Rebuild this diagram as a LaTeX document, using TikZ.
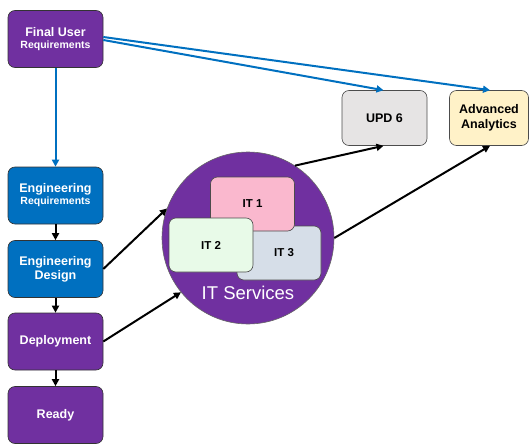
\documentclass[tikz,border=0pt]{standalone}
\usepackage{fontspec}
\setmainfont{Liberation Sans}
\usetikzlibrary{arrows.meta}
\definecolor{vio}{RGB}{112,48,160}
\definecolor{azure}{RGB}{0,112,192}
\definecolor{pinkbox}{RGB}{250,184,206}
\definecolor{greenbox}{RGB}{232,250,232}
\definecolor{steelbox}{RGB}{214,222,232}
\definecolor{greybox}{RGB}{230,228,228}
\definecolor{creambox}{RGB}{255,242,200}
\tikzset{
  flowbox/.style={draw=black!80, line width=0.6pt, rounded corners=7pt,
    minimum width=95pt, minimum height=57pt, text=white, align=center,
    font=\bfseries\fontsize{12.5}{14}\selectfont},
  purplebox/.style={flowbox, fill=vio},
  bluebox/.style={flowbox, fill=azure},
  itbox/.style={draw=black!70, line width=0.6pt, rounded corners=7pt,
    minimum width=84pt, minimum height=54pt, align=center,
    font=\bfseries\fontsize{11.5}{13}\selectfont},
  outbox/.style={draw=black!70, line width=0.6pt, rounded corners=7pt,
    minimum width=85pt, minimum height=55pt, align=center,
    font=\bfseries\fontsize{12.5}{14.5}\selectfont},
  bluearrow/.style={draw=azure, line width=2pt, -{Triangle[length=7pt,width=7pt]}},
  blackarrow/.style={draw=black, line width=2pt, -{Triangle[length=7pt,width=7pt]}},
}
\begin{document}
\begin{tikzpicture}[x=1pt,y=-1pt]
\useasboundingbox (0,0) rectangle (530,444);

% left column of steps
\node[purplebox] (fur) at (55.5,39) {Final User\\[-2pt]{\fontsize{10.5}{12}\selectfont Requirements}};
\node[bluebox] (ereq) at (55.5,195.5) {Engineering\\[-2pt]{\fontsize{10.5}{12}\selectfont Requirements}};
\node[bluebox] (edes) at (55.5,269) {Engineering\\Design};
\node[purplebox] (dep) at (55.5,341.5) {Deployment};
\node[purplebox] (ready) at (55.5,415) {Ready};

% IT services group
\node[circle, draw=black!60, line width=0.6pt, fill=vio, minimum size=172pt, inner sep=0pt] (its) at (248,238) {};
\node[itbox, fill=steelbox] (it3) at (279,253) {\hspace*{10pt}IT 3};
\node[itbox, fill=pinkbox] (it1) at (252.5,204) {IT 1};
\node[itbox, fill=greenbox] (it2) at (211,245) {IT 2};
\node[text=white, font=\fontsize{18.5}{20}\selectfont] (itlabel) at (248,293) {IT Services};

% outputs
\node[outbox, fill=greybox] (upd) at (384.5,118) {UPD 6};
\node[outbox, fill=creambox, minimum width=79pt] (aa) at (489,118) {Advanced\\Analytics};

% connectors
\coordinate (furA) at ([yshift=-1pt]fur.east);
\coordinate (furB) at ([yshift=2pt]fur.east);
\draw[bluearrow] (fur.south) -- (ereq.north);
\draw[bluearrow] (furA) -- ([xshift=-1pt]upd.north);
\draw[bluearrow] (furB) -- ([xshift=1pt]aa.north);
\draw[blackarrow] (ereq) -- (edes);
\draw[blackarrow] (edes) -- (dep);
\draw[blackarrow] (dep) -- (ready);
\draw[blackarrow] (edes.east) -- (its.160);
\draw[blackarrow] (dep.east) -- (its.219);
\draw[blackarrow] (its.57) -- ([xshift=-1pt]upd.south);
\draw[blackarrow] (its.0) -- ([xshift=1pt]aa.south);
\end{tikzpicture}
\end{document}
